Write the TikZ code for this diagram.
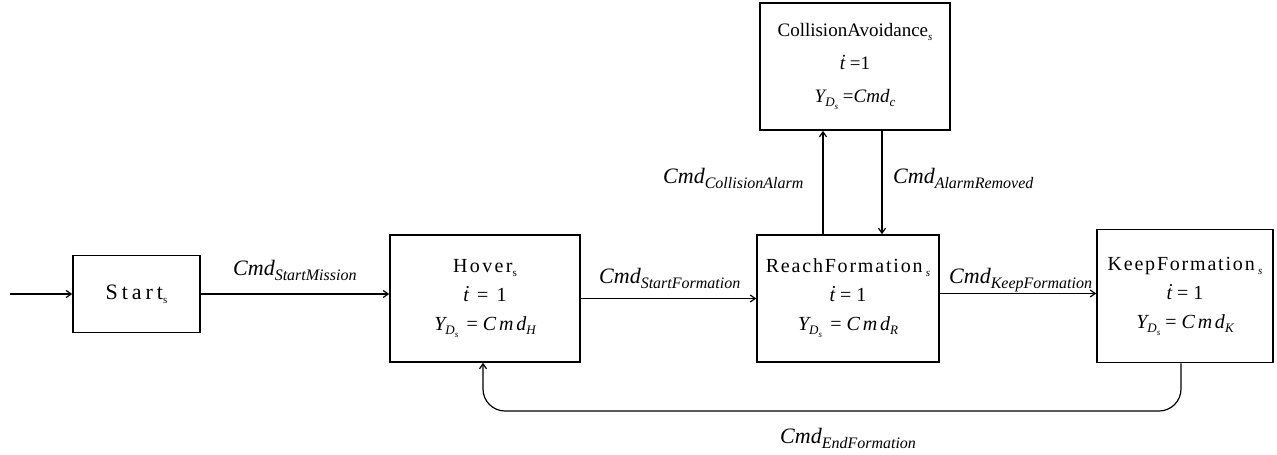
\documentclass[tikz,border=0pt]{standalone}
\usepackage{fontspec}
\setmainfont{Liberation Serif}
\usetikzlibrary{arrows.meta}
\newcommand\cmdlab[1]{{\fontsize{22}{22}\selectfont\itshape Cmd}\raisebox{-5pt}{\fontsize{16}{16}\selectfont\itshape #1}}
\newcommand\ydsub{{\itshape Y}\raisebox{-4pt}{\fontsize{13}{13}\selectfont\itshape D\raisebox{-3pt}{\fontsize{9}{9}\selectfont s}}}
\newcommand\cmdsub[1]{{\itshape Cmd}\raisebox{-4pt}{\fontsize{13}{13}\selectfont\itshape #1}}
\newcommand\cmdsp[1]{{\itshape\addfontfeature{LetterSpace=14}Cmd}\raisebox{-4pt}{\fontsize{13}{13}\selectfont\itshape #1}}
\newcommand\tdot{{\itshape ṫ}}
\newcommand\ssub[1]{\raisebox{-4pt}{\fontsize{11}{11}\selectfont #1}}
\begin{document}
\begin{tikzpicture}[x=1pt,y=-1pt,
  box/.style={draw, line width=1.6pt, inner sep=0pt, align=center, font=\fontsize{20}{29}\selectfont},
  arr/.style={line width=1.2pt, -{Straight Barb[length=5pt,width=7pt]}},
  lab/.style={anchor=base west, inner sep=0pt}]
\useasboundingbox (0,0) rectangle (1277,455);
% boxes
\node[box, minimum width=127pt, minimum height=77pt] (start) at (136.5,294)
  {\fontsize{22}{22}\selectfont\addfontfeature{LetterSpace=18}Start\ssub{s}};
\node[box, minimum width=190pt, minimum height=127pt] (hover) at (485,298.5)
  {{\addfontfeature{LetterSpace=12}Hover}\ssub{s}\\ \tdot\ \,=\ \,1\\ \ydsub\ \,=\ \cmdsp{H}};
\node[box, minimum width=182pt, minimum height=127pt] (reach) at (848,298.5)
  {{\addfontfeature{LetterSpace=9}ReachFormation}\,\ssub{\itshape s}\\ \tdot\ =\ 1\\ \ydsub\ \,=\ \cmdsp{R}};
\node[box, minimum width=176pt, minimum height=133pt] (keep) at (1185,296)
  {{\addfontfeature{LetterSpace=9}KeepFormation}\,\ssub{\itshape s}\\ \tdot\ =\ 1\\ \ydsub\ =\ \cmdsp{K}};
\node[box, minimum width=190pt, minimum height=127pt, font=\fontsize{19}{33}\selectfont] (coll) at (855,66.5)
  {CollisionAvoidance\ssub{\itshape s}\\ \tdot\ =1\\ \ydsub\ =\cmdsub{c}};
% labels
\node[lab] (lstart) at (233,275) {\cmdlab{StartMission}};
\node[lab] (lsf) at (599,283) {\cmdlab{StartFormation}};
\node[lab] (lkf) at (949,283) {\cmdlab{KeepFormation}};
\node[lab] (lca) at (663,183) {\cmdlab{CollisionAlarm}};
\node[lab] (lar) at (893,183) {\cmdlab{AlarmRemoved}};
\node[lab] (lef) at (780,443) {\cmdlab{EndFormation}};
% connectors
\coordinate (entry) at (10,294);
\coordinate (loopy) at (0,411);
\draw[arr] (entry) -- (start.west);
\draw[arr] (start.east) -- (start.east -| hover.west);
\draw[arr] (hover.east) -- (hover.east -| reach.west);
\draw[arr] ([yshift=5pt]reach.east) -- ([yshift=5pt]reach.east -| keep.west);
\draw[arr] ([xshift=-25pt]reach.north) -- ([xshift=-25pt]reach.north |- coll.south);
\draw[arr] ([xshift=27pt]coll.south) -- ([xshift=27pt]coll.south |- reach.north);
\draw[arr, rounded corners=22pt] ([xshift=-4pt]keep.south) |- ([xshift=-2pt]hover.south |- loopy) -- ([xshift=-2pt]hover.south);
\end{tikzpicture}
\end{document}
